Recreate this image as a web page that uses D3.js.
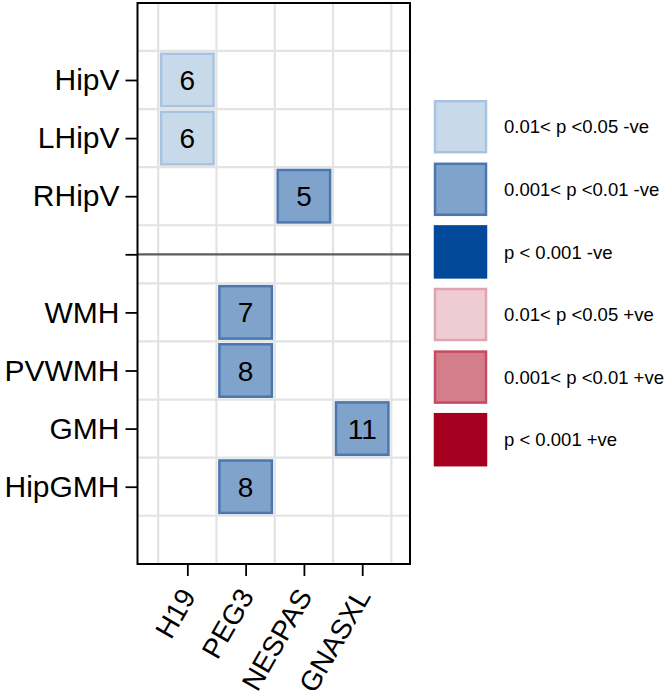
<!DOCTYPE html>
<html>
<head>
<meta charset="utf-8">
<script src="https://cdn.jsdelivr.net/npm/d3@7"></script>
<style>
  html, body { margin: 0; padding: 0; background: #ffffff; }
  svg { display: block; font-family: "Liberation Sans", Arial, Helvetica, sans-serif; }
</style>
</head>
<body>
<div id="chart"></div>
<script>
// ---- data ----
const rowSlots = ["HipV", "LHipV", "RHipV", "", "WMH", "PVWMH", "GMH", "HipGMH"]; // "" = separator slot
const columns = ["H19", "PEG3", "NESPAS", "GNASXL"];
const cellRows = ["HipV", "LHipV", "RHipV", "WMH", "PVWMH", "GMH", "HipGMH"];
const cellCols = ["H19", "H19", "NESPAS", "PEG3", "PEG3", "GNASXL", "PEG3"];
const cellValues = [6, 6, 5, 7, 8, 11, 8];
const cellLevels = [0, 0, 1, 1, 1, 1, 1];
const legendLabels = ["0.01< p <0.05 -ve", "0.001< p <0.01 -ve", "p < 0.001 -ve",
                      "0.01< p <0.05 +ve", "0.001< p <0.01 +ve", "p < 0.001 +ve"];
const levelFills   = ["#c8d9ea", "#7fa3cb", "#03499a", "#efccd3", "#d47d8b", "#a5001f"];
const levelStrokes = ["#a7c3df", "#4a77b0", "#03499a", "#e0a4b0", "#c64b60", "#a5001f"];

// ---- layout ----
const W = 668, H = 698;
const svg = d3.select("#chart").append("svg").attr("width", W).attr("height", H);

const panel = { left: 137.5, right: 410, top: 3, bottom: 564 };
const x = d3.scaleLinear().domain([-0.855, 3.82]).range([panel.left, panel.right]);
const y = d3.scaleLinear().domain([-1.325, 8.33]).range([panel.top, panel.bottom]);
const colIndex = c => columns.indexOf(c);
const rowIndex = r => rowSlots.indexOf(r);
const sepIndex = rowSlots.indexOf("");

// grid lines (between cells)
const g = svg.append("g");
const vGrid = d3.range(-0.5, columns.length, 1);
const hGrid = d3.range(-0.5, rowSlots.length, 1);
g.selectAll("line.vg").data(vGrid).join("line")
  .attr("x1", d => x(d)).attr("x2", d => x(d))
  .attr("y1", panel.top).attr("y2", panel.bottom)
  .attr("stroke", "#e3e3e3").attr("stroke-width", 2.2);
g.selectAll("line.hg").data(hGrid).join("line")
  .attr("x1", panel.left).attr("x2", panel.right)
  .attr("y1", d => y(d)).attr("y2", d => y(d))
  .attr("stroke", "#e3e3e3").attr("stroke-width", 2.2);

// separator
g.append("line")
  .attr("x1", panel.left).attr("x2", panel.right)
  .attr("y1", y(sepIndex)).attr("y2", y(sepIndex))
  .attr("stroke", "#5c5c5c").attr("stroke-width", 2.2);

// cells
const cellSize = (x(1) - x(0)) * 0.9;
const cells = cellRows.map((r, i) => ({ r, c: cellCols[i], v: cellValues[i], lev: cellLevels[i] }));
g.selectAll("rect.cell").data(cells).join("rect")
  .attr("x", d => x(colIndex(d.c)) - cellSize / 2)
  .attr("y", d => y(rowIndex(d.r)) - cellSize / 2)
  .attr("width", cellSize).attr("height", cellSize)
  .attr("fill", d => levelFills[d.lev])
  .attr("stroke", d => levelStrokes[d.lev]).attr("stroke-width", 2.5);
g.selectAll("text.cell").data(cells).join("text")
  .attr("x", d => x(colIndex(d.c)))
  .attr("y", d => y(rowIndex(d.r)))
  .attr("dy", "0.36em")
  .attr("text-anchor", "middle")
  .attr("font-size", 28).attr("fill", "#000")
  .text(d => d.v);

// panel border
svg.append("rect")
  .attr("x", panel.left).attr("y", panel.top)
  .attr("width", panel.right - panel.left).attr("height", panel.bottom - panel.top)
  .attr("fill", "none").attr("stroke", "#000").attr("stroke-width", 2);

// y axis
const yAxis = d3.axisLeft(y)
  .tickValues(d3.range(rowSlots.length))
  .tickFormat(i => rowSlots[i])
  .tickSize(12).tickPadding(6);
const ya = svg.append("g").attr("transform", `translate(${panel.left},0)`).call(yAxis);
ya.select(".domain").remove();
ya.selectAll(".tick line").attr("stroke", "#000").attr("stroke-width", 1.8);
ya.selectAll(".tick text").attr("font-size", 30).attr("fill", "#000")
  .attr("font-family", "\"Liberation Sans\", Arial, sans-serif");

// x axis
const xAxis = d3.axisBottom(x)
  .tickValues(d3.range(columns.length))
  .tickFormat(i => columns[i])
  .tickSize(12);
const xa = svg.append("g").attr("transform", `translate(0,${panel.bottom})`).call(xAxis);
xa.select(".domain").remove();
xa.selectAll(".tick line").attr("stroke", "#000").attr("stroke-width", 1.8);
xa.selectAll(".tick text")
  .attr("font-size", 28).attr("fill", "#000")
  .attr("font-family", "\"Liberation Sans\", Arial, sans-serif")
  .attr("text-anchor", "end")
  .attr("y", 0).attr("dy", "0.36em")
  .attr("transform", "translate(0,27) rotate(-60)");

// legend
const lg = svg.append("g");
const legY = d3.scaleLinear().domain([0, 1]).range([126.7, 189.3]);
const legSize = 51;
lg.selectAll("rect").data(legendLabels).join("rect")
  .attr("x", 435).attr("y", (d, i) => legY(i) - legSize / 2)
  .attr("width", legSize).attr("height", legSize)
  .attr("fill", (d, i) => levelFills[i])
  .attr("stroke", (d, i) => levelStrokes[i]).attr("stroke-width", 2.5);
lg.selectAll("text").data(legendLabels).join("text")
  .attr("x", 504).attr("y", (d, i) => legY(i))
  .attr("dy", "0.36em")
  .attr("font-size", 18.5).attr("fill", "#000")
  .text(d => d);
</script>
</body>
</html>
